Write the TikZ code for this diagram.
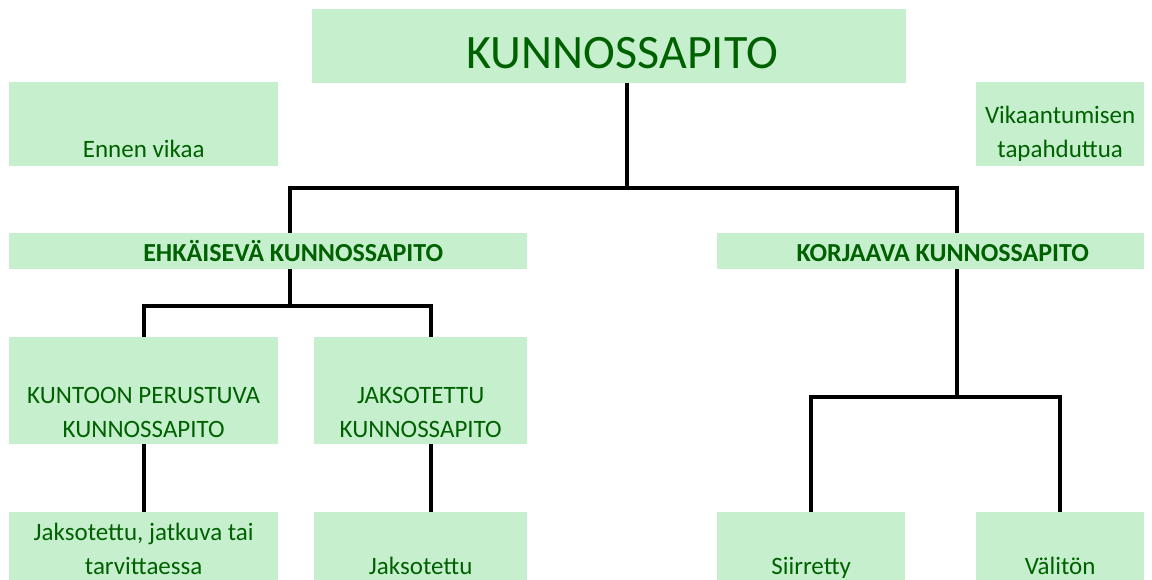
\documentclass[tikz,border=0pt]{standalone}
\usepackage{fontspec}
\setmainfont{Carlito}
\definecolor{cellfill}{HTML}{C6EFCE}
\definecolor{celltext}{HTML}{006100}
% width, height, gap under last baseline, text (set at the bottom, like a spreadsheet cell)
\newcommand{\cellbox}[4]{%
  \parbox[c][#2][b]{#1}{\centering #4\par\vskip\dimexpr#3-\prevdepth\relax}}

\begin{document}
\begin{tikzpicture}[x = 1pt, y = -1pt,
    cell/.style = {fill = cellfill, text = celltext, inner sep = 0pt,
      anchor = north west, font = \fontsize{25}{34}\selectfont},
    link/.style = {line width = 4pt}]
  \useasboundingbox (0,0) rectangle (1152,579);

  \node [cell] (top) at (312,9)
    {\cellbox{594pt}{74pt}{15pt}{\fontsize{48}{48}\selectfont\hspace*{26pt}KUNNOSSAPITO}};
  \node [cell] (ennen) at (9,82) {\cellbox{269pt}{84pt}{9pt}{Ennen vikaa}};
  \node [cell] (vika) at (976,82) {\cellbox{168pt}{84pt}{9pt}{Vikaantumisen\\tapahduttua}};

  \node [cell] (ehk) at (9,233)
    {\cellbox{518pt}{36pt}{8pt}{\fontsize{26}{34}\selectfont\bfseries\hspace*{50pt}EHKÄISEVÄ KUNNOSSAPITO}};
  \node [cell] (korj) at (717,233)
    {\cellbox{427pt}{36pt}{8pt}{\fontsize{26}{34}\selectfont\bfseries\hspace*{24pt}KORJAAVA KUNNOSSAPITO}};

  \node [cell] (kunto) at (9,337) {\cellbox{269pt}{107pt}{7pt}{KUNTOON PERUSTUVA\\KUNNOSSAPITO}};
  \node [cell] (jakso) at (314,337) {\cellbox{213pt}{107pt}{7pt}{JAKSOTETTU\\KUNNOSSAPITO}};

  \node [cell] (jatk) at (9,512) {\cellbox{269pt}{71pt}{9pt}{Jaksotettu, jatkuva tai\\tarvittaessa}};
  \node [cell] (jakso2) at (314,512) {\cellbox{213pt}{71pt}{9pt}{Jaksotettu}};
  \node [cell] (siirr) at (717,512) {\cellbox{188pt}{71pt}{9pt}{Siirretty}};
  \node [cell] (valit) at (976,512) {\cellbox{168pt}{71pt}{9pt}{Välitön}};

  \coordinate (j1) at (627,188);
  \coordinate (j2) at (290,306);
  \coordinate (j3) at (957,397);

  \draw [link] (top.south -| j1) -- (j1);
  \draw [link] (ehk.north -| j2) |- (j1) -| (korj.north -| j3);
  \draw [link] (ehk.south -| j2) -- (j2);
  \draw [link] (kunto.north) |- (j2) -| ([xshift = 10pt]jakso.north);
  \draw [link] (kunto.south) -- (jatk.north);
  \draw [link] ([xshift = 10pt]jakso.south) -- ([xshift = 10pt]jakso2.north);
  \draw [link] (korj.south -| j3) -- (j3);
  \draw [link] (siirr.north) |- (j3) -| (valit.north);
\end{tikzpicture}
\end{document}
